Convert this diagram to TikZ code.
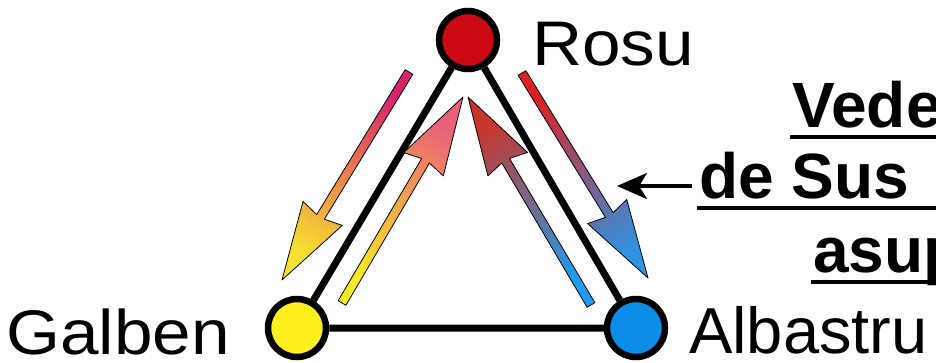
\documentclass[tikz,border=0pt]{standalone}
\usepackage{fontspec}
\setmainfont{Liberation Sans}
\newfontfamily\widesans[FakeStretch=1.1]{Liberation Sans}
\usepackage{tikz}
\usetikzlibrary{calc,arrows.meta}
\definecolor{rosu}{HTML}{CC0A14}
\definecolor{galben}{HTML}{FFEF1E}
\definecolor{albastru}{HTML}{0C8DE8}
\definecolor{magA}{HTML}{D6246A}  \definecolor{salA}{HTML}{F08C60}  \definecolor{yelA}{HTML}{F8E030}
\definecolor{pinkB}{HTML}{E8607A} \definecolor{orB}{HTML}{F0A858}   \definecolor{yelB}{HTML}{F8EC20}
\definecolor{redC}{HTML}{C8362A}  \definecolor{grayC}{HTML}{8C8A96} \definecolor{blueC}{HTML}{1E9CF0}
\definecolor{redD}{HTML}{DC2222}  \definecolor{grayD}{HTML}{9A7468} \definecolor{blueD}{HTML}{2E92E0}
\tikzset{
  dot/.style={circle, draw=black, line width=6.5pt, minimum size=58pt, inner sep=0pt},
  side/.style={line width=7pt},
  arrowfill/.style={draw=black, line width=0.8pt, line join=round},
  lbl/.style={anchor=base west, inner sep=0pt, font=\fontsize{63}{63}\widesans},
  headline/.style={anchor=base west, inner sep=0pt, font=\fontsize{64}{64}\selectfont\bfseries},
  uline/.style={line width=3.5pt},
  pointer/.style={line width=4pt, -{Stealth[length=30pt,width=26pt,inset=8pt]}}
}
% tail, tip, tail colour, middle colour, tip colour, shading angle
\newcommand{\gradarrow}[6]{%
  \coordinate (nk) at ($(#2)!74pt!(#1)$);
  \coordinate (wg) at ($(#2)!78pt!(#1)$);
  \shadedraw[arrowfill, top color=#3, middle color=#4, bottom color=#5, shading angle=#6]
    ($(#1)!4.5pt!90:(#2)$) -- ($(nk)!4.5pt!-90:(#1)$) -- ($(wg)!23pt!-90:(#1)$) -- (#2)
    -- ($(wg)!23pt!90:(#1)$) -- ($(nk)!4.5pt!90:(#1)$) -- ($(#1)!4.5pt!-90:(#2)$) -- cycle;
}

\begin{document}
\begin{tikzpicture}[x=1pt, y=-1pt]
  \path[use as bounding box] (0,0) rectangle (936,362);
  \clip (0,0) rectangle (936,362);

  % ---------- colour triangle ----------
  \node[dot, fill=rosu] (R) at (468,40) {};
  \node[dot, fill=galben] (G) at (297,328) {};
  \node[dot, fill=albastru] (A) at (636,328) {};
  \draw[side] (R) -- (G)  (G) -- (A)  (A) -- (R);

  \node[lbl] (rosuL) at (532,65) {Rosu};
  \node[lbl] (galbenL) at (6,354) {Galben};
  \node[lbl, font=\fontsize{65}{65}\selectfont] (albastruL) at (689,353) {Albastru};

  % ---------- shaded arrows ----------
  \coordinate (t1) at (409,72);  \coordinate (h1) at (282,280);
  \coordinate (t2) at (342,303); \coordinate (h2) at (463,97);
  \coordinate (t3) at (591,305); \coordinate (h3) at (468,97);
  \coordinate (t4) at (522,73);  \coordinate (h4) at (648,278);
  \gradarrow{t1}{h1}{magA}{salA}{yelA}{-31}
  \gradarrow{t2}{h2}{pinkB}{orB}{yelB}{-30}
  \gradarrow{t3}{h3}{redC}{grayC}{blueC}{31}
  \gradarrow{t4}{h4}{redD}{grayD}{blueD}{32}

  % ---------- caption on the right ----------
  \node[headline] (v1) at (792,127) {Vedere};
  \node[headline] (v2) at (699,198) {de Sus};
  \node[headline] (v3) at (813,272) {asupra};
  \coordinate (edge) at (940,0);
  \foreach \l in {v1,v2,v3}
    \draw[uline] ($(\l.base west)+(-2,10)$) -- ($(\l.base west -| edge)+(0,10)$);

  \coordinate (aim) at (617,186);
  \draw[pointer] ($(v2.base west)+(-7,-12)$) -- (aim);

\end{tikzpicture}
\end{document}
